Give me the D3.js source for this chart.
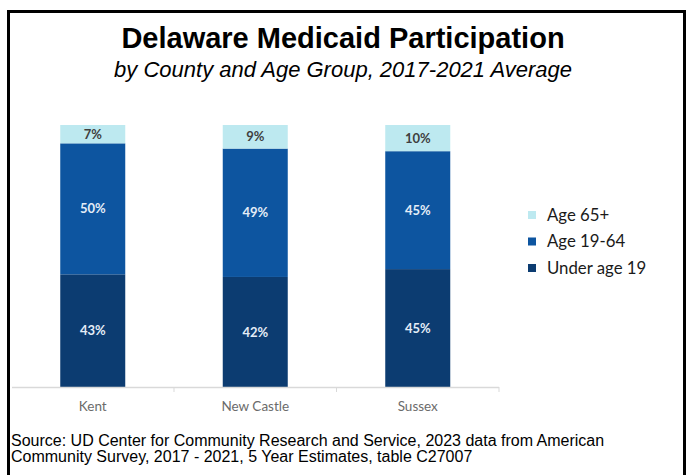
<!DOCTYPE html>
<html>
<head>
<meta charset="utf-8">
<script src="https://cdn.jsdelivr.net/npm/d3@7/dist/d3.min.js"></script>
<style>
  html, body { margin: 0; padding: 0; background: #fff; }
  svg { display: block; }
</style>
</head>
<body>
<svg id="chart" width="687" height="475"></svg>
<script>
// Medicaid participation share by age group within each county (percent)
const counties = ["Kent", "New Castle", "Sussex"];
const under19 = [43, 42, 45];
const age19to64 = [50, 49, 45];
const age65plus = [7, 9, 10];

const seriesNames = ["Under age 19", "Age 19-64", "Age 65+"];
const seriesColors = ["#0c3c71", "#0d55a0", "#bde9f0"];
const labelColors = ["#e4edf7", "#e4edf7", "#3f3f3f"];

const rows = counties.map((c, i) => ({
  county: c,
  "Under age 19": under19[i],
  "Age 19-64": age19to64[i],
  "Age 65+": age65plus[i]
}));

const svg = d3.select("#chart");

// Outer frame
svg.append("rect")
  .attr("x", 8.5).attr("y", 11.5)
  .attr("width", 676).attr("height", 480)
  .attr("fill", "#fff").attr("stroke", "#000").attr("stroke-width", 3);

// Titles
svg.append("text")
  .attr("x", 343).attr("y", 48)
  .attr("text-anchor", "middle")
  .attr("font-family", "Liberation Sans, Arial, sans-serif")
  .attr("font-weight", "bold").attr("font-size", 29)
  .attr("fill", "#000")
  .text("Delaware Medicaid Participation");

svg.append("text")
  .attr("x", 343).attr("y", 77)
  .attr("text-anchor", "middle")
  .attr("font-family", "Liberation Sans, Arial, sans-serif")
  .attr("font-style", "italic").attr("font-size", 22)
  .attr("fill", "#000")
  .text("by County and Age Group, 2017-2021 Average");

// Scales
const x = d3.scaleBand().domain(counties).range([11.5, 499]).paddingInner(0.6).paddingOuter(0.3);
const y = d3.scaleLinear().domain([0, 100]).range([387, 125]);

const layers = d3.stack().keys(seriesNames)(rows);

const g = svg.append("g");

layers.forEach((layer, li) => {
  g.selectAll(null)
    .data(layer)
    .enter().append("rect")
    .attr("x", d => x(d.data.county))
    .attr("width", x.bandwidth())
    .attr("y", d => y(d[1]))
    .attr("height", d => y(d[0]) - y(d[1]))
    .attr("fill", seriesColors[li]);

  g.selectAll(null)
    .data(layer)
    .enter().append("text")
    .attr("x", d => x(d.data.county) + x.bandwidth() / 2)
    .attr("y", d => (y(d[0]) + y(d[1])) / 2)
    .attr("dy", "0.35em")
    .attr("text-anchor", "middle")
    .attr("font-family", "Lato, 'Open Sans', sans-serif")
    .attr("font-weight", "bold").attr("font-size", 13)
    .attr("fill", labelColors[li])
    .text(d => (d[1] - d[0]) + "%");
});

// Category axis
const axis = d3.axisBottom(x).tickSize(0).tickPadding(14);
const axG = svg.append("g").attr("transform", "translate(0,387)").call(axis);
axG.select(".domain").remove();
axG.append("line")
  .attr("x1", 12).attr("x2", 499).attr("y1", 0.5).attr("y2", 0.5)
  .attr("stroke", "#d9d9d9").attr("stroke-width", 1.5);
// Tick marks between categories
const step = x.step();
const boundaries = counties.map(c => x(c) + x.bandwidth() / 2 + step / 2);
axG.selectAll(".sep").data(boundaries).enter().append("line")
  .attr("x1", d => d).attr("x2", d => d)
  .attr("y1", 0).attr("y2", 5)
  .attr("stroke", "#d9d9d9");
axG.selectAll(".tick text")
  .attr("font-family", "Lato, 'Open Sans', sans-serif")
  .attr("font-size", 13.5)
  .attr("fill", "#6b6b6b");

// Legend
const legendItems = ["Age 65+", "Age 19-64", "Under age 19"];
const legendColors = ["#bde9f0", "#0d55a0", "#0c3c71"];
const lg = svg.append("g");
legendItems.forEach((name, i) => {
  const cy = 215 + i * 26.5;
  lg.append("rect")
    .attr("x", 528).attr("y", cy - 4)
    .attr("width", 8).attr("height", 8)
    .attr("fill", legendColors[i]);
  lg.append("text")
    .attr("x", 547).attr("y", cy)
    .attr("dy", "0.35em")
    .attr("font-family", "Lato, 'Open Sans', sans-serif")
    .attr("font-size", 16.8)
    .attr("fill", "#1a1a1a")
    .text(name);
});

// Source note
const src = svg.append("text")
  .attr("font-family", "Liberation Sans, Arial, sans-serif")
  .attr("font-size", 16)
  .attr("fill", "#000");
src.append("tspan").attr("x", 11).attr("y", 446)
  .text("Source: UD Center for Community Research and Service, 2023 data from American");
src.append("tspan").attr("x", 11).attr("y", 462)
  .text("Community Survey, 2017 - 2021, 5 Year Estimates, table C27007");
</script>
</body>
</html>
